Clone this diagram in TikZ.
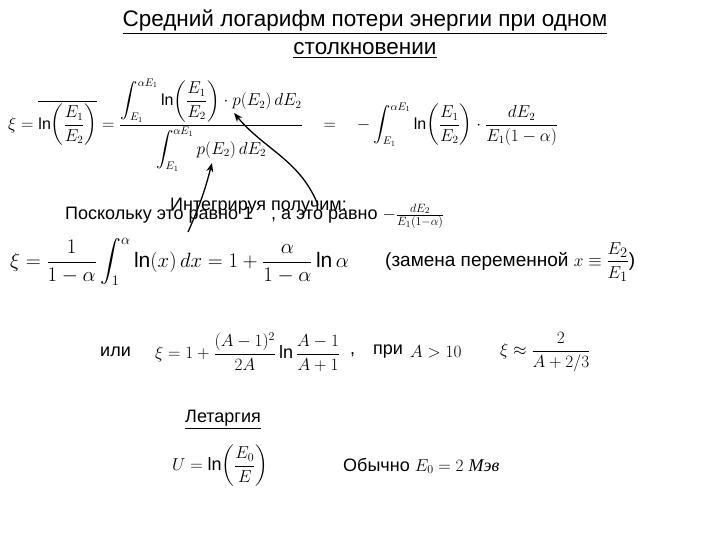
\documentclass[tikz,border=0pt]{standalone}
\usepackage{amsmath}
\usepackage{fontspec}
\setmainfont{Liberation Sans}
\newfontfamily\mserif{Liberation Serif}
\usetikzlibrary{arrows.meta}
\tikzset{txt/.style={inner sep=0pt,anchor=west,font=\fontsize{18}{21}\selectfont},
 eq/.style={inner sep=0pt,anchor=west,font=\fontsize{18}{21}\selectfont},
 arr/.style={-{Stealth[length=9pt,width=7pt]},line width=1.3pt}}
\begin{document}
\begin{tikzpicture}[x=1pt,y=-1pt]
\useasboundingbox[fill=white] (0,0) rectangle (720,540);
\node[inner sep=0pt,align=center,font=\fontsize{22.5}{28}\selectfont] (title) at (365,34) {\underline{Средний логарифм потери энергии при одном}\\\underline{столкновении}};
\node[eq,font=\fontsize{16}{19}\selectfont] (f1) at (8,125) {$\xi=\overline{\ln\!\left(\dfrac{E_1}{E_2}\right)}=\dfrac{\displaystyle\int_{E_1}^{\alpha E_1}\ln\!\left(\dfrac{E_1}{E_2}\right)\cdot p(E_2)\,dE_2}{\displaystyle\int_{E_1}^{\alpha E_1}p(E_2)\,dE_2}\quad=\quad-\displaystyle\int_{E_1}^{\alpha E_1}\ln\!\left(\dfrac{E_1}{E_2}\right)\cdot\dfrac{dE_2}{E_1(1-\alpha)}$};
\node[txt] (t1) at (170,206) {Интегрируя получим:};
\node[txt] (t2) at (65,216) {Поскольку это равно 1\quad, а это равно $-\frac{dE_2}{E_1(1-\alpha)}$};
\node[eq,font=\fontsize{21}{24}\selectfont] (f2) at (10,262) {$\xi=\dfrac{1}{1-\alpha}\displaystyle\int_1^{\alpha}\ln(x)\,dx=1+\dfrac{\alpha}{1-\alpha}\ln\alpha$};
\node[txt,font=\fontsize{19}{22}\selectfont] (f3) at (385,262) {(замена переменной $x\equiv\dfrac{E_2}{E_1}$)};
\node[txt] (ili) at (100,352) {или};
\node[eq] (f4) at (155,352) {$\xi=1+\dfrac{(A-1)^2}{2A}\,\textrm{ln}\,\dfrac{A-1}{A+1}$};
\node[txt] (pri) at (350,352) {,\quad при};
\node[eq] (f5) at (410,352) {$A>10$};
\node[eq] (f6) at (500,352) {$\xi\approx\dfrac{2}{A+2/3}$};
\node[txt] (let) at (185,420) {\underline{Летаргия}};
\node[eq] (f7) at (172,466) {$U=\ln\!\left(\dfrac{E_0}{E}\right)$};
\node[txt] (ob) at (343,466) {Обычно $E_0=2$ {\mserif\itshape Мэв}};
\coordinate (a1) at (188,232);
\coordinate (a1e) at (212,163);
\coordinate (a2) at (318,205);
\coordinate (a2e) at (234,113);
\draw[arr] (a1) .. controls (200,205) and (205,190) .. (a1e);
\draw[arr] (a2) .. controls (300,160) and (265,150) .. (a2e);
\end{tikzpicture}
\end{document}
